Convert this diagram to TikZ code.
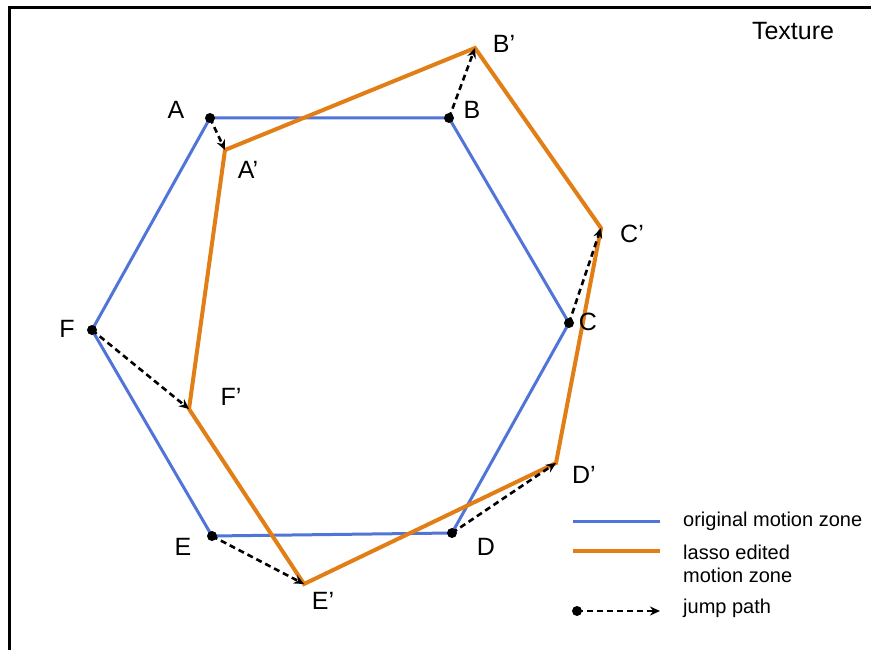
\documentclass[tikz,border=0pt]{standalone}
\usepackage{fontspec}
\setmainfont{Liberation Sans}
\usetikzlibrary{arrows.meta,positioning}
\definecolor{zoneblue}{RGB}{80,116,216}
\definecolor{lassoorange}{RGB}{226,126,22}
\tikzset{
  orig/.style={draw=zoneblue,line width=3pt,line join=miter},
  lasso/.style={draw=lassoorange,line width=4pt,line join=miter},
  jump/.style={-{Stealth[length=10pt,width=9pt]},draw=black,line width=2.6pt,
    dash pattern=on 6pt off 4pt},
  pt/.style={circle,fill=black,inner sep=0pt,minimum size=10pt},
  lbl/.style={font=\fontsize{25}{28}\selectfont,inner sep=0pt},
  legtext/.style={font=\fontsize{20}{23}\selectfont,inner sep=0pt,anchor=west,align=left}
}
\begin{document}
\begin{tikzpicture}[x=1pt,y=-1pt]
  \useasboundingbox (0,0) rectangle (871,650);
  % frame
  \begin{scope}
    \clip (0,0) rectangle (871,650);
    \draw[line width=3pt] (9,670) -- (9,8) -- (890,8);
  \end{scope}
  \node[lbl] (texture) at (793,31) {Texture};

  % original motion zone
  \coordinate (A) at (210,118);
  \coordinate (B) at (449,118);
  \coordinate (C) at (569,323);
  \coordinate (D) at (452,533);
  \coordinate (E) at (212,536);
  \coordinate (F) at (92,330);
  \draw[orig] (A) -- (B) -- (C) -- (D) -- (E) -- (F) -- cycle;

  % lasso edited motion zone
  \coordinate (Ap) at (225,150);
  \coordinate (Bp) at (475,48);
  \coordinate (Cp) at (601,228);
  \coordinate (Dp) at (556,463);
  \coordinate (Ep) at (304,584);
  \coordinate (Fp) at (189,409);
  \draw[lasso] (Ap) -- (Bp) -- (Cp) -- (Dp) -- (Ep) -- (Fp) -- cycle;

  % jump paths
  \foreach \p in {A,B,C,D,E,F}{
    \draw[jump] (\p) -- (\p p);
    \node[pt] (dot\p) at (\p) {};
  }

  % labels
  \node[lbl] (lA) at (176,110) {A};
  \node[lbl] (lAp) at (248,170) {A’};
  \node[lbl] (lB) at (472,110) {B};
  \node[lbl] (lBp) at (504,44) {B’};
  \node[lbl] (lC) at (588,322) {C};
  \node[lbl] (lCp) at (632,234) {C’};
  \node[lbl] (lD) at (486,547) {D};
  \node[lbl] (lDp) at (584,475) {D’};
  \node[lbl] (lE) at (183,547) {E};
  \node[lbl] (lEp) at (323,601) {E’};
  \node[lbl] (lF) at (67,329) {F};
  \node[lbl] (lFp) at (231,397) {F’};

  % legend
  \coordinate (legOa) at (573,521);
  \coordinate (legOb) at (660,521);
  \draw[orig] (legOa) -- (legOb);
  \node[legtext] (legO) at (683,521) {original motion zone};
  \coordinate (legLa) at (573,551);
  \coordinate (legLb) at (660,551);
  \draw[lasso] (legLa) -- (legLb);
  \node[legtext] (legL) at (683,564) {lasso edited\\motion zone};
  \coordinate (legJa) at (577,611);
  \coordinate (legJb) at (660,611);
  \draw[jump] (legJa) -- (legJb);
  \node[pt] (legJdot) at (legJa) {};
  \node[legtext] (legJ) at (683,608) {jump path};
\end{tikzpicture}
\end{document}
